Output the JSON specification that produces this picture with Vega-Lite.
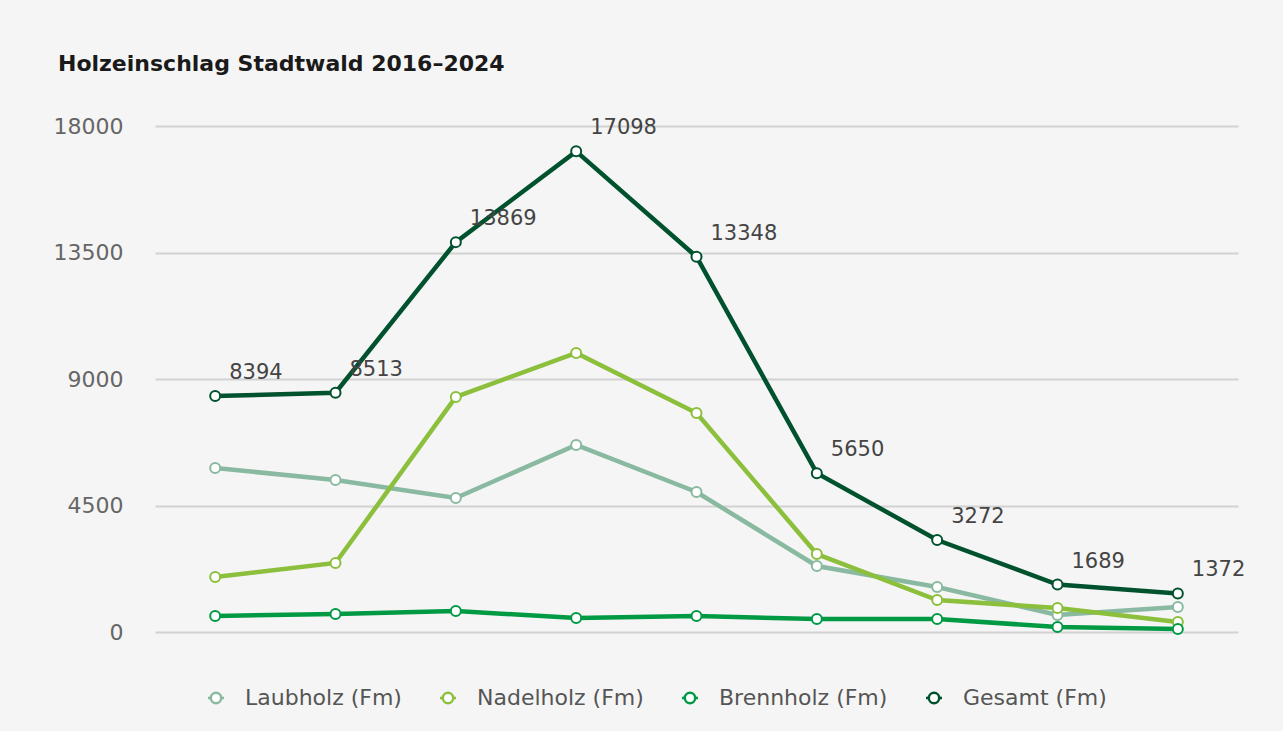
{
  "$schema": "https://vega.github.io/schema/vega-lite/v6.json",
  "width": 1083,
  "height": 506,
  "autosize": {"type": "none"},
  "padding": {"left": 155, "top": 126, "right": 45, "bottom": 99},
  "background": "#f5f5f5",
  "title": {
    "text": "Holzeinschlag Stadtwald 2016–2024",
    "anchor": "start",
    "frame": "group",
    "dx": -97,
    "offset": 39,
    "font": "DejaVu Sans",
    "fontSize": 22,
    "fontWeight": "bold",
    "color": "#1a1a1a"
  },
  "config": {
    "view": {"stroke": null},
    "font": "DejaVu Sans"
  },
  "data": {
    "values": [
      {"jahr": "2016", "serie": "Laubholz (Fm)", "wert": 5834},
      {"jahr": "2017", "serie": "Laubholz (Fm)", "wert": 5407},
      {"jahr": "2018", "serie": "Laubholz (Fm)", "wert": 4767},
      {"jahr": "2019", "serie": "Laubholz (Fm)", "wert": 6652},
      {"jahr": "2020", "serie": "Laubholz (Fm)", "wert": 4980},
      {"jahr": "2021", "serie": "Laubholz (Fm)", "wert": 2348},
      {"jahr": "2022", "serie": "Laubholz (Fm)", "wert": 1601},
      {"jahr": "2023", "serie": "Laubholz (Fm)", "wert": 605},
      {"jahr": "2024", "serie": "Laubholz (Fm)", "wert": 889},
      {"jahr": "2016", "serie": "Nadelholz (Fm)", "wert": 1957},
      {"jahr": "2017", "serie": "Nadelholz (Fm)", "wert": 2455},
      {"jahr": "2018", "serie": "Nadelholz (Fm)", "wert": 8360},
      {"jahr": "2019", "serie": "Nadelholz (Fm)", "wert": 9925},
      {"jahr": "2020", "serie": "Nadelholz (Fm)", "wert": 7790},
      {"jahr": "2021", "serie": "Nadelholz (Fm)", "wert": 2775},
      {"jahr": "2022", "serie": "Nadelholz (Fm)", "wert": 1138},
      {"jahr": "2023", "serie": "Nadelholz (Fm)", "wert": 854},
      {"jahr": "2024", "serie": "Nadelholz (Fm)", "wert": 356},
      {"jahr": "2016", "serie": "Brennholz (Fm)", "wert": 569},
      {"jahr": "2017", "serie": "Brennholz (Fm)", "wert": 640},
      {"jahr": "2018", "serie": "Brennholz (Fm)", "wert": 747},
      {"jahr": "2019", "serie": "Brennholz (Fm)", "wert": 498},
      {"jahr": "2020", "serie": "Brennholz (Fm)", "wert": 569},
      {"jahr": "2021", "serie": "Brennholz (Fm)", "wert": 462},
      {"jahr": "2022", "serie": "Brennholz (Fm)", "wert": 462},
      {"jahr": "2023", "serie": "Brennholz (Fm)", "wert": 178},
      {"jahr": "2024", "serie": "Brennholz (Fm)", "wert": 107},
      {"jahr": "2016", "serie": "Gesamt (Fm)", "wert": 8394},
      {"jahr": "2017", "serie": "Gesamt (Fm)", "wert": 8513},
      {"jahr": "2018", "serie": "Gesamt (Fm)", "wert": 13869},
      {"jahr": "2019", "serie": "Gesamt (Fm)", "wert": 17098},
      {"jahr": "2020", "serie": "Gesamt (Fm)", "wert": 13348},
      {"jahr": "2021", "serie": "Gesamt (Fm)", "wert": 5650},
      {"jahr": "2022", "serie": "Gesamt (Fm)", "wert": 3272},
      {"jahr": "2023", "serie": "Gesamt (Fm)", "wert": 1689},
      {"jahr": "2024", "serie": "Gesamt (Fm)", "wert": 1372}
    ]
  },
  "encoding": {
    "x": {
      "field": "jahr",
      "type": "ordinal",
      "scale": {"type": "point", "padding": 0.5},
      "axis": null
    },
    "y": {
      "field": "wert",
      "type": "quantitative",
      "scale": {"domain": [0, 18000], "nice": false},
      "axis": {
        "values": [0, 4500, 9000, 13500, 18000],
        "format": "d",
        "title": null,
        "domain": false,
        "ticks": false,
        "labelPadding": 32,
        "labelFontSize": 22,
        "labelColor": "#666666",
        "labelFont": "DejaVu Sans",
        "gridColor": "#d2d2d2",
        "gridWidth": 2
      }
    },
    "color": {
      "field": "serie",
      "type": "nominal",
      "scale": {
        "domain": ["Laubholz (Fm)", "Nadelholz (Fm)", "Brennholz (Fm)", "Gesamt (Fm)"],
        "range": ["#89b9a0", "#8bbf3c", "#009a44", "#00522e"]
      },
      "legend": {
        "title": null,
        "orient": "none",
        "direction": "horizontal",
        "legendX": 50,
        "legendY": 561,
        "symbolType": "M-1,0H-0.65M0.65,0H1M-0.65,0A0.65,0.65 0 1,0 0.65,0A0.65,0.65 0 1,0 -0.65,0",
        "symbolSize": 256,
        "symbolStrokeWidth": 2.5,
        "symbolFillColor": "#ffffff",
        "labelFontSize": 22,
        "labelLimit": 400,
        "labelColor": "#555555",
        "labelFont": "DejaVu Sans",
        "labelOffset": 18,
        "columnPadding": 33
      }
    }
  },
  "layer": [
    {
      "mark": {"type": "line", "strokeWidth": 4.5}
    },
    {
      "mark": {"type": "point", "shape": "circle", "filled": false, "fill": "#ffffff", "fillOpacity": 1, "opacity": 1, "size": 100, "strokeWidth": 2}
    },
    {
      "transform": [{"filter": "datum.serie === 'Gesamt (Fm)'"}],
      "mark": {"type": "text", "align": "left", "baseline": "middle", "dx": 14, "dy": -23, "fontSize": 21, "font": "DejaVu Sans"},
      "encoding": {
        "text": {"field": "wert", "type": "quantitative", "format": "d"},
        "color": {"value": "#444444"}
      }
    }
  ]
}
